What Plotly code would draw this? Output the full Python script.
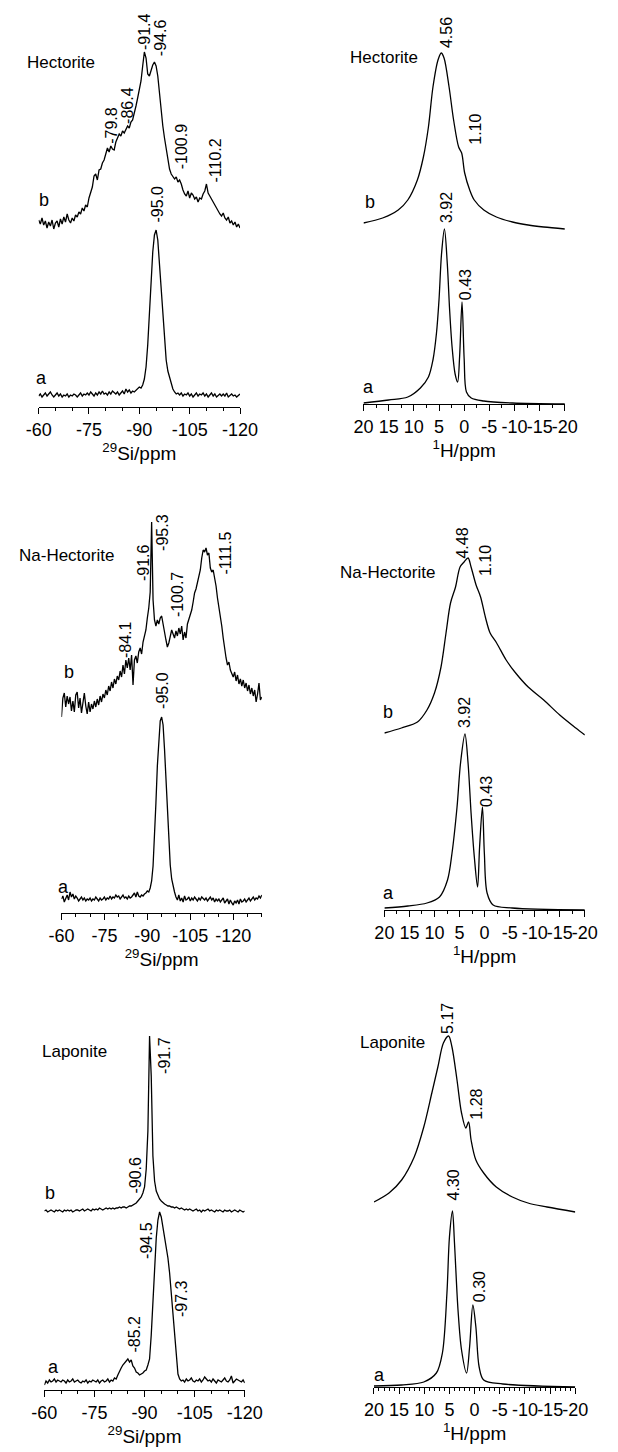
import plotly.graph_objects as go

W, H = 618, 1452
FONT = "Liberation Sans, Arial, sans-serif"

# ---------------- data ----------------
# 29Si spectra: intensities sampled every 0.5 ppm, starting at -60 ppm
SI_START = -60.0
SI_STEP = -0.5

hect_si_a = [
    1, 3, 0, 2, 4, 1, 3, 5, 2, 0,
    2, 4, 1, 3, 0, 2, 1, 3, 0, 2,
    1, 3, 2, 0, 2, 4, 1, 3, 2, 4,
    2, 5, 3, 1, 4, 2, 5, 3, 6, 3,
    4, 2, 5, 3, 6, 4, 3, 5, 2, 4,
    6, 3, 8, 5, 7, 4, 6, 5, 7, 9,
    10, 9, 12, 18, 30, 52, 85, 118, 145, 162,
    167, 157, 133, 105, 77, 54, 37, 26, 19, 13,
    8, 5, 3, 4, 2, 4, 1, 3, 2, 4,
    1, 3, 0, 2, 4, 1, 3, 2, 4, 1,
    3, 0, 2, 4, 1, 3, 0, 2, 3, 1,
    3, 1, 4, 0, 2, 3, 1, 2, 0, 2,
    3]
hect_si_b = [
    6, 2, 8, 1, 5, -2, 4, 0, 6, -3,
    3, 5, -1, 7, 2, 9, 4, 12, 6, 3,
    8, 5, 11, 9, 14, 12, 18, 15, 21, 19,
    28, 34, 39, 50, 52, 46, 56, 57, 63, 66,
    72, 78, 74, 80, 77, 76, 84, 88, 92, 90,
    95, 93, 97, 100, 98, 104, 106, 112, 120, 128,
    136, 145, 160, 174, 168, 152, 150, 156, 161, 164,
    160, 150, 132, 115, 100, 88, 76, 66, 57, 52,
    50, 47, 49, 44, 46, 42, 36, 32, 30, 35,
    28, 33, 31, 27, 29, 24, 28, 27, 32, 35,
    42, 33, 30, 27, 23, 20, 17, 15, 12, 10,
    13, 8, 6, 9, 3, 5, 1, 4, -1, 2,
    -2]
nahect_si_a = [
    2, 5, -1, 3, 6, 1, 9, 4, 7, 2,
    5, 3, 0, 2, 4, 1, 3, 0, 2, 1,
    3, 0, 2, 1, 4, 2, 0, 3, 1, 2,
    4, 1, 3, 2, 5, 2, 4, 3, 6, 4,
    5, 2, 4, 6, 3, 4, 2, 5, 3, 4,
    6, 8, 4, 9, 5, 4, 6, 5, 7, 8,
    10, 9, 13, 20, 35, 62, 98, 135, 165, 180,
    184, 176, 152, 120, 86, 58, 36, 22, 14, 9,
    4, 1, 6, 0, 3, -1, 5, 1, 2, 4,
    0, 3, 1, 4, 2, 0, 3, 1, 4, 2,
    1, 3, 0, 2, 4, 1, 3, -1, 2, 0,
    2, -1, 1, 3, -2, 0, 2, -3, 1, -2,
    -4, 0, -2, 1, -3, 2, -1, 0, 2, -1,
    1, 3, 0, 2, 4, 1, 3, 2, 5, 3,
    6]
nahect_si_b = [
    -7, 12, 17, 3, 14, 6, 13, -1, 9, -2,
    15, 18, 2, 12, -3, 10, 17, 4, -4, 8,
    -2, 6, 1, 9, 3, 11, 5, 14, 8, 16,
    12, 20, 15, 24, 19, 28, 22, 31, 26, 34,
    30, 39, 33, 45, 36, 50, 42, 52, 40, 55,
    25, 50, 54, 47, 58, 62, 56, 68, 74, 80,
    92, 102, 118, 188, 110, 90, 84, 90, 86, 92,
    94, 84, 78, 70, 63, 67, 74, 80, 76, 72,
    79, 74, 82, 76, 84, 70, 78, 72, 86, 90,
    94, 100, 108, 117, 121, 128, 132, 140, 152, 160,
    158, 162, 155, 157, 142, 138, 140, 133, 124, 112,
    104, 96, 84, 72, 60, 52, 45, 48, 40, 36,
    33, 38, 29, 35, 26, 31, 24, 30, 22, 27,
    19, 25, 16, 22, 14, 20, 8, 16, 27, 10,
    13]
lap_si_a = [
    -2, 2, 0, 3, 1, 2, 4, 1, 3, 2,
    1, 3, 2, 0, 3, 1, 2, 4, 1, 2,
    3, 1, 0, 2, 1, 3, 0, 2, 1, 3,
    2, 1, 3, 0, 2, 3, 1, 2, 4, 1,
    3, 2, 5, 4, 8, 12, 15, 18, 20, 22,
    24, 21, 23, 17, 15, 11, 10, 8, 9, 10,
    12, 13, 18, 24, 48, 85, 118, 145, 163, 171,
    166, 156, 146, 136, 125, 110, 90, 70, 50, 26,
    9, 4, 2, 3, 1, 4, 2, 3, 5, 2,
    1, 3, 2, 4, 1, 3, 6, 4, 2, 3,
    1, 4, 2, 0, 3, 2, 1, 3, 5, 2,
    1, 3, 7, 0, 2, 4, 3, 2, 1, 3,
    0]
lap_si_b = [
    0, 1, -1, 0, 1, 0, -1, 1, 0, 1,
    0, -1, 1, 0, 1, 0, 1, -1, 0, 1,
    1, 0, 1, 2, 0, 1, 2, 1, 0, 2,
    1, 2, 1, 3, 2, 1, 2, 3, 2, 3,
    2, 3, 2, 3, 3, 4, 3, 4, 4, 3,
    4, 5, 5, 6, 7, 8, 10, 12, 14, 18,
    24, 42, 80, 175, 135, 55, 30, 20, 15, 12,
    10, 8, 7, 6, 5, 5, 4, 4, 3, 4,
    3, 2, 3, 2, 1, 2, 1, 2, 1, 0,
    1, 2, 0, 1, -1, 1, 0, 1, 2, 0,
    1, 0, -1, 1, 0, 1, 0, -1, 1, 0,
    0, 1, -1, 0, 1, 0, -1, 1, 0, -1,
    0]

# 1H spectra: (ppm, intensity) points
hect_h_a_ppm = [20, 15, 11.2, 8.7, 7.1, 6.2, 5.5, 5.0, 4.5, 3.92, 3.35, 2.9, 2.4, 1.8, 1.3, 0.9, 0.43, 0.0, -0.45, -1.4, -3.9, -9.6, -20]
hect_h_a = [1, 4, 7, 16, 27, 44, 71, 104, 150, 175, 140, 95, 57, 30, 22, 48, 102, 45, 12, 6, 3, 1, 0]
hect_h_b_ppm = [20, 16.2, 13.1, 11.2, 9.3, 8.1, 7.1, 6.2, 5.2, 4.56, 4.0, 3.0, 2.1, 1.1, 0.5, -0.1, -1.1, -2.0, -3.9, -6.4, -9.6, -12.7, -15.8, -20]
hect_h_b = [6, 11, 19, 29, 49, 72, 102, 142, 169, 176, 171, 142, 109, 82, 76, 56, 39, 29, 19, 12, 7, 4, 2, 0]

nahect_h_a_ppm = [20, 15.3, 11.5, 9, 7.4, 6.5, 5.5, 4.8, 3.92, 3.3, 2.7, 2.05, 1.4, 1.0, 0.43, 0.05, -0.5, -1.7, -5.5, -20]
nahect_h_a = [2, 4, 7, 13, 30, 57, 103, 147, 176, 147, 97, 53, 23, 63, 103, 57, 17, 5, 2, 0]
nahect_h_b_ppm = [20, 16.6, 13.4, 11.5, 10, 8.7, 7.7, 6.8, 5.8, 4.9, 4.1, 3.3, 2.7, 1.7, 0.8, -0.15, -1.1, -2.4, -4.3, -6.2, -8.7, -11.8, -15, -18.2, -20]
nahect_h_b = [0, 5, 11, 23, 40, 66, 100, 130, 146, 166, 171, 175, 166, 148, 136, 116, 100, 90, 73, 60, 46, 33, 18, 5, -2]

lap_h_a_ppm = [20, 14.5, 10.1, 7.6, 6.4, 5.5, 5.0, 4.4, 4.0, 3.3, 2.6, 1.6, 1.0, 0.35, -0.25, -0.9, -1.8, -5.6, -20]
lap_h_a = [1, 2, 5, 14, 34, 94, 150, 176, 144, 77, 37, 14, 40, 82, 60, 20, 7, 3, 0]
lap_h_b_ppm = [20, 17, 14.5, 12, 10.1, 8.5, 7.3, 6.2, 5.17, 4.5, 3.5, 2.6, 1.75, 1.2, 0.7, -0.25, -1.8, -4.3, -7.5, -10.6, -14.4, -20]
lap_h_b = [10, 19, 32, 55, 85, 119, 145, 169, 176, 165, 132, 99, 84, 90, 72, 52, 39, 25, 15, 9, 5, 0]

SI_TICKS = [-60, -75, -90, -105, -120]
SI_TICKTEXT = ["-60", "-75", "-90", "-105", "-120"]
H_TICKS = [20, 15, 10, 5, 0, -5, -10, -15, -20]
H_TICKTEXT = ["20", "15", "10", "5", "0", "-5", "-10", "-15", "-20"]

SAMPLES = ["Hectorite", "Na-Hectorite", "Laponite"]
SI_TITLE = "<sup>29</sup>Si/ppm"
H_TITLE = "<sup>1</sup>H/ppm"


def si_ppm(values):
    return [SI_START + SI_STEP * i for i in range(len(values))]


# ---------------- layout config ----------------
panels = [
    dict(sample=0, kind="si", xpx=(27, 239), ypx=(407, 0), xr=[-60, -120], minor=5,
         a=(si_ppm(hect_si_a), hect_si_a, 10), b=(si_ppm(hect_si_b), hect_si_b, 181),
         name_pos=(-66.8, 345), a_pos=(-60.8, 29), b_pos=(-61.7, 207),
         peaks=[("-91.4", -91.4, 375), ("-94.6", -96.2, 369), ("-79.8", -81.5, 282),
                ("-86.4", -86.3, 302), ("-100.9", -102.5, 260), ("-110.2", -112.4, 246),
                ("-95.0", -95.4, 203)]),
    dict(sample=0, kind="h", xpx=(369, 581), ypx=(404, 0), xr=[20, -20], minor=2.5,
         a=(hect_h_a_ppm, hect_h_a, 0), b=(hect_h_b_ppm, hect_h_b, 175),
         name_pos=(16.0, 347), a_pos=(19.1, 17), b_pos=(18.7, 202),
         peaks=[("4.56", 3.6, 371), ("1.10", -2.1, 275), ("3.92", 3.6, 196), ("0.43", -0.2, 119)]),
    dict(sample=1, kind="si", xpx=(51, 262), ypx=(913, 480), xr=[-60, -130], minor=5,
         a=(si_ppm(nahect_si_a), nahect_si_a, 12), b=(si_ppm(nahect_si_b), nahect_si_b, 203),
         name_pos=(-61.8, 358), a_pos=(-60.7, 26), b_pos=(-62.7, 241),
         peaks=[("-91.6", -88.5, 350), ("-95.3", -95.1, 381), ("-84.1", -82.2, 273),
                ("-100.7", -100.4, 318), ("-111.5", -117.3, 360), ("-95.0", -95.1, 223)]),
    dict(sample=1, kind="h", xpx=(391, 602), ypx=(910, 480), xr=[20, -20], minor=2.5,
         a=(nahect_h_a_ppm, nahect_h_a, 0), b=(nahect_h_b_ppm, nahect_h_b, 177),
         name_pos=(19.4, 338), a_pos=(19.2, 17), b_pos=(19.2, 198),
         peaks=[("4.48", 4.6, 367), ("1.10", -0.1, 349), ("3.92", 4.1, 197), ("0.43", -0.3, 118)]),
    dict(sample=2, kind="si", xpx=(33, 244), ypx=(1390, 980), xr=[-60, -120], minor=5,
         a=(si_ppm(lap_si_a), lap_si_a, 7), b=(si_ppm(lap_si_b), lap_si_b, 179),
         name_pos=(-69.1, 339), a_pos=(-62.8, 23), b_pos=(-61.7, 197),
         peaks=[("-91.7", -95.8, 335), ("-90.6", -87.0, 215), ("-94.5", -90.4, 150),
                ("-97.3", -100.9, 92), ("-85.2", -86.7, 56)]),
    dict(sample=2, kind="h", xpx=(380, 592), ypx=(1387, 980), xr=[20, -20], minor=1,
         a=(lap_h_a_ppm, lap_h_a, 0), b=(lap_h_b_ppm, lap_h_b, 175),
         name_pos=(16.3, 345), a_pos=(18.9, 12), b_pos=(20.2, 202),
         peaks=[("5.17", 5.5, 369), ("1.28", -0.2, 283), ("4.30", 4.2, 202), ("0.30", -0.9, 100)]),
]

fig = go.Figure()
annotations = []
layout_axes = {}

for i, p in enumerate(panels, start=1):
    xname = "x" if i == 1 else f"x{i}"
    yname = "y" if i == 1 else f"y{i}"
    xkey = "xaxis" if i == 1 else f"xaxis{i}"
    ykey = "yaxis" if i == 1 else f"yaxis{i}"
    axis_y, top_y = p["ypx"]
    yr = [0, axis_y - top_y]
    shape = "linear" if p["kind"] == "si" else "spline"

    for key in ("a", "b"):
        xs, vals, off = p[key]
        fig.add_trace(go.Scatter(
            x=xs, y=[v + off for v in vals], xaxis=xname, yaxis=yname,
            mode="lines", line=dict(color="black", width=1.3, shape=shape,
                                    smoothing=0.9 if shape == "spline" else None),
            showlegend=False, hoverinfo="skip"))

    ticks = SI_TICKS if p["kind"] == "si" else H_TICKS
    ticktext = SI_TICKTEXT if p["kind"] == "si" else H_TICKTEXT
    layout_axes[xkey] = dict(
        domain=[p["xpx"][0] / W, p["xpx"][1] / W], range=p["xr"], anchor=yname,
        showline=True, linecolor="black", linewidth=1, mirror=False,
        showgrid=False, zeroline=False,
        tickmode="array", tickvals=ticks, ticktext=ticktext, tickangle=0,
        ticks="outside", ticklen=6, tickwidth=1, tickcolor="black",
        minor=dict(tickmode="linear", tick0=p["xr"][0], dtick=p["minor"],
                   ticks="outside", ticklen=3, tickwidth=1, tickcolor="black", showgrid=False),
        tickfont=dict(family=FONT, size=18, color="black"),
        title=dict(text=SI_TITLE if p["kind"] == "si" else H_TITLE,
                   font=dict(family=FONT, size=19, color="black"), standoff=7),
        fixedrange=True,
    )
    layout_axes[ykey] = dict(
        domain=[1 - axis_y / H, 1 - top_y / H], range=yr, anchor=xname,
        visible=False, fixedrange=True,
    )

    nx, ny = p["name_pos"]
    annotations.append(dict(text=SAMPLES[p["sample"]], x=nx, y=ny, xref=xname, yref=yname,
                            showarrow=False, font=dict(family=FONT, size=17, color="black"),
                            xanchor="center", yanchor="middle"))
    for lab, pos in (("a", p["a_pos"]), ("b", p["b_pos"])):
        annotations.append(dict(text=lab, x=pos[0], y=pos[1], xref=xname, yref=yname,
                                showarrow=False, font=dict(family=FONT, size=18, color="black"),
                                xanchor="center", yanchor="middle"))
    for txt, px_, py_ in p["peaks"]:
        annotations.append(dict(text=txt, x=px_, y=py_, xref=xname, yref=yname,
                                showarrow=False, textangle=-90,
                                font=dict(family=FONT, size=16, color="black"),
                                xanchor="center", yanchor="middle"))

fig.update_layout(
    width=W, height=H, margin=dict(l=0, r=0, t=0, b=0),
    paper_bgcolor="white", plot_bgcolor="white",
    annotations=annotations, showlegend=False,
    **layout_axes,
)

fig.write_html("out.html", config={"displayModeBar": False},
               post_script="document.body.style.margin='0';document.body.style.overflow='hidden';")
